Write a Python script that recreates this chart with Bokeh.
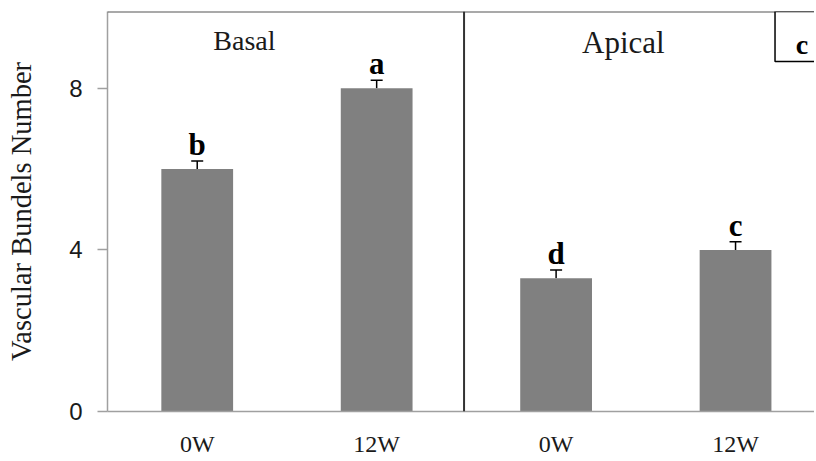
from bokeh.plotting import figure
from bokeh.models import (ColumnDataSource, Range1d, FixedTicker, Span, Whisker,
                          TeeHead, Label, BoxAnnotation)
from bokeh.core.properties import value
from bokeh.embed import file_html
from bokeh.resources import INLINE

# ---- data ----
times = ["0W", "12W", "0W", "12W"]
means = [6.0, 8.0, 3.3, 4.0]
errors = [0.2, 0.2, 0.2, 0.2]
letters = ["b", "a", "d", "c"]
panels = ["Basal", "Apical"]
y_ticks = [0, 4, 8]
panel_letter = "c"
y_title = "Vascular Bundels Number"

xs = [i + 1 for i in range(len(means))]
upper = [m + e for m, e in zip(means, errors)]
src = ColumnDataSource(dict(x=xs, top=means, upper=upper, letter=letters))

SERIF = "Liberation Serif"
SANS = "Liberation Sans"

p = figure(width=814, height=459,
           x_range=Range1d(0.5, 4.44), y_range=Range1d(0, 9.9),
           output_backend="svg", toolbar_location=None,
           min_border_left=107, min_border_right=0,
           min_border_top=11, min_border_bottom=48)
p.xgrid.visible = False
p.ygrid.visible = False
p.outline_line_color = None
p.background_fill_color = "white"
p.border_fill_color = "white"

# bars
p.vbar(x="x", top="top", width=0.4, source=src,
       fill_color="#808080", line_color=None)

# error bars (upper only)
w = Whisker(base="x", lower="top", upper="upper", source=src,
            line_color="black", line_width=1.5,
            upper_head=TeeHead(size=12, line_color="black", line_width=1.5),
            lower_head=None)
p.add_layout(w)

# significance letters
p.text(x="x", y="upper", text="letter", source=src,
       text_align="center", text_baseline="bottom", y_offset=1,
       text_font=value(SERIF), text_font_style="bold",
       text_font_size="31px", text_color="black")

# x axis
p.xaxis.ticker = FixedTicker(ticks=xs)
p.xaxis.major_label_overrides = {x: t for x, t in zip(xs, times)}
p.xaxis.major_tick_line_color = None
p.xaxis.minor_tick_line_color = None
p.xaxis.axis_line_color = "#a0a0a0"
p.xaxis.axis_line_width = 1.5
p.xaxis.major_label_text_font = SERIF
p.xaxis.major_label_text_font_size = "24px"
p.xaxis.major_label_text_color = "#1a1a1a"
p.xaxis.major_label_standoff = 13

# y axis
p.yaxis.ticker = FixedTicker(ticks=y_ticks)
p.yaxis.major_tick_out = 10
p.yaxis.major_tick_in = 0
p.yaxis.minor_tick_line_color = None
p.yaxis.axis_line_color = "#a0a0a0"
p.yaxis.axis_line_width = 1.5
p.yaxis.major_tick_line_color = "#a0a0a0"
p.yaxis.major_tick_line_width = 1.5
p.yaxis.major_label_text_font = SANS
p.yaxis.major_label_text_font_size = "24px"
p.yaxis.major_label_text_color = "#1a1a1a"
p.yaxis.major_label_standoff = 15
p.yaxis.axis_label = y_title
p.yaxis.axis_label_text_font = SERIF
p.yaxis.axis_label_text_font_style = "normal"
p.yaxis.axis_label_text_font_size = "28.5px"
p.yaxis.axis_label_text_color = "#1a1a1a"
p.yaxis.axis_label_standoff = 29

# top border and group divider
p.add_layout(Span(location=9.9, dimension="width", line_color="#555555", line_width=2))
p.add_layout(Span(location=(xs[1] + xs[2]) / 2 - 0.013, dimension="height",
                  line_color="#333333", line_width=2))

# panel titles
p.add_layout(Label(x=1.263, y=8.79, text=panels[0], text_align="center",
                   text_baseline="bottom", text_font=SERIF,
                   text_font_size="28px", text_color="#1a1a1a"))
p.add_layout(Label(x=3.375, y=8.69, text=panels[1], text_align="center",
                   text_baseline="bottom", text_font=SERIF,
                   text_font_size="31px", text_color="#1a1a1a"))

# panel letter box
p.add_layout(BoxAnnotation(left=4.22, right=4.8, top=9.9, bottom=8.66,
                           fill_color="white", fill_alpha=1.0,
                           line_color="black", line_alpha=1.0, line_width=1.5))
p.add_layout(Label(x=4.37, y=9.08, text=panel_letter, text_align="center",
                   text_baseline="middle", text_font=SERIF,
                   text_font_style="bold", text_font_size="28px",
                   text_color="black"))

open("out.html", "w").write(file_html(p, INLINE))
